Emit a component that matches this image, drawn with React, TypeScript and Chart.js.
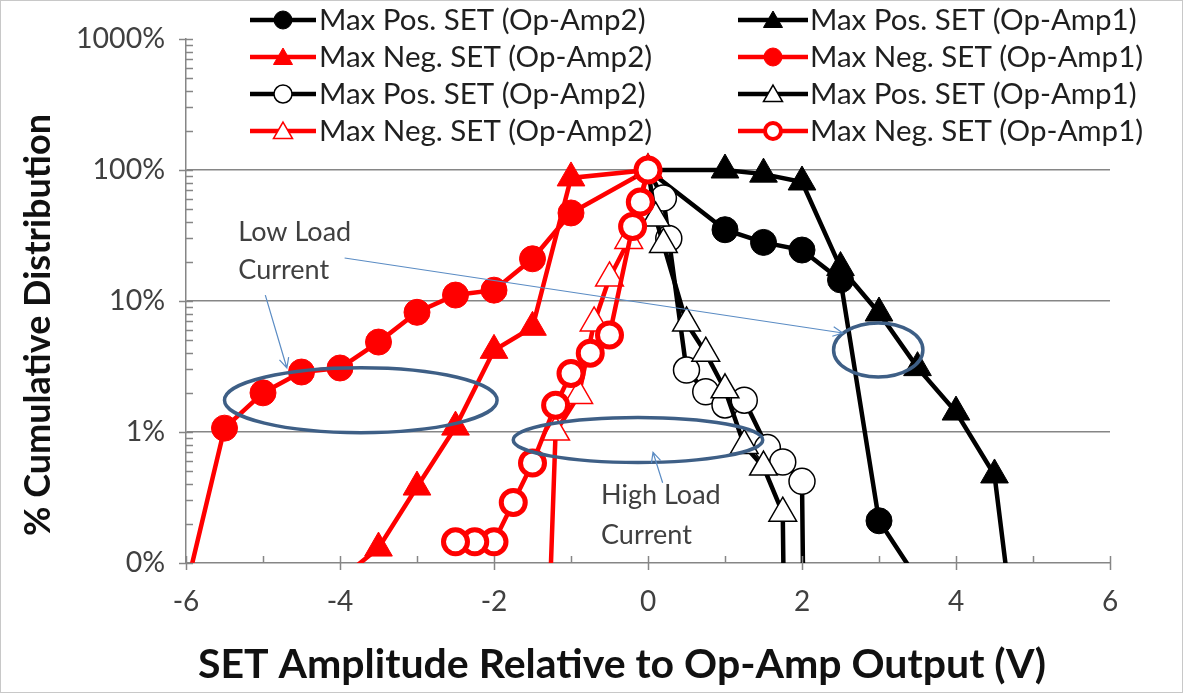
import React, { useEffect, useRef } from 'react';
import { Chart, registerables } from 'chart.js';

Chart.register(...registerables);

const FONT = 'Lato, "Liberation Sans", sans-serif';
const RED = '#ff0000';
const BLACK = '#000000';
const AXIS_GRAY = '#868686';
const NOTE_BLUE = '#3e5f86';
const ARROW_BLUE = '#5b8cc4';

// Axis ranges and tick labels (y in percent, log scale)
const X_MIN = -6;
const X_MAX = 6;
const X_STEP = 2;
const Y_MIN = 0.1;
const Y_MAX = 1000;
const yTickValues = [0.1, 1, 10, 100, 1000];
const yTickLabels = ['0%', '1%', '10%', '100%', '1000%'];

const xTitle = 'SET Amplitude Relative to Op-Amp Output (V)';
const yTitle = '% Cumulative Distribution';

// Series data: x = SET amplitude (V), y = cumulative distribution (%)
const posAmp2SolidX = [0, 1, 1.5, 2, 2.5, 3, 3.5];
const posAmp2SolidY = [100, 35, 28, 24.5, 14.5, 0.21, 0.075];

const posAmp1SolidX = [0, 1, 1.5, 2, 2.5, 3, 3.5, 4, 4.5, 5];
const posAmp1SolidY = [100, 100, 93, 81, 18, 8.1, 3.1, 1.42, 0.47, 0.002];

const negAmp2SolidX = [0, -1, -1.5, -2, -2.5, -3, -3.5, -4];
const negAmp2SolidY = [100, 87, 6.3, 4.2, 1.09, 0.38, 0.13, 0.075];

const negAmp1SolidX = [0, -1, -1.5, -2, -2.5, -3, -3.5, -4, -4.5, -5, -5.5, -6];
const negAmp1SolidY = [100, 47, 21, 12.1, 11.1, 8.2, 4.86, 3.08, 2.87, 1.99, 1.07, 0.063];

const posAmp2OpenX = [0, 0.2, 0.27, 0.5, 0.75, 1, 1.25, 1.55, 1.75, 2, 2.05];
const posAmp2OpenY = [100, 61, 30, 2.97, 2.03, 1.61, 1.75, 0.76, 0.59, 0.42, 0.001];

const posAmp1OpenX = [0, 0.1, 0.2, 0.5, 0.75, 1, 1.25, 1.5, 1.75, 1.8];
const posAmp1OpenY = [100, 43, 27, 6.8, 4.0, 2.1, 0.79, 0.54, 0.24, 0.001];

const negAmp2OpenX = [0, -0.25, -0.5, -0.7, -0.9, -1.2, -1.32];
const negAmp2OpenY = [100, 29, 15, 6.8, 1.9, 1.0, 0.01];

const negAmp1OpenX = [0, -0.1, -0.2, -0.5, -0.75, -1, -1.2, -1.5, -1.75, -2, -2.25, -2.5];
const negAmp1OpenY = [100, 57, 37, 5.5, 4.0, 2.8, 1.6, 0.58, 0.29, 0.145, 0.145, 0.145];

type Marker = {
  shape: 'circle' | 'triangle';
  color: string;
  fill: string;
  radius: number;
  border: number;
  legendRadius: number;
  legendBorder: number;
};

type Series = { label: string; xs: number[]; ys: number[]; marker: Marker };

const seriesList: Series[] = [
  {
    label: 'Max Pos. SET (Op-Amp2)', xs: posAmp2SolidX, ys: posAmp2SolidY,
    marker: { shape: 'circle', color: BLACK, fill: BLACK, radius: 13, border: 1, legendRadius: 9, legendBorder: 1 },
  },
  {
    label: 'Max Pos. SET (Op-Amp1)', xs: posAmp1SolidX, ys: posAmp1SolidY,
    marker: { shape: 'triangle', color: BLACK, fill: BLACK, radius: 16, border: 1, legendRadius: 11, legendBorder: 1 },
  },
  {
    label: 'Max Neg. SET (Op-Amp2)', xs: negAmp2SolidX, ys: negAmp2SolidY,
    marker: { shape: 'triangle', color: RED, fill: RED, radius: 16, border: 1, legendRadius: 11, legendBorder: 1 },
  },
  {
    label: 'Max Neg. SET (Op-Amp1)', xs: negAmp1SolidX, ys: negAmp1SolidY,
    marker: { shape: 'circle', color: RED, fill: RED, radius: 13, border: 1, legendRadius: 9, legendBorder: 1 },
  },
  {
    label: 'Max Pos. SET (Op-Amp2)', xs: posAmp2OpenX, ys: posAmp2OpenY,
    marker: { shape: 'circle', color: BLACK, fill: '#ffffff', radius: 13, border: 1.5, legendRadius: 9, legendBorder: 1.5 },
  },
  {
    label: 'Max Pos. SET (Op-Amp1)', xs: posAmp1OpenX, ys: posAmp1OpenY,
    marker: { shape: 'triangle', color: BLACK, fill: '#ffffff', radius: 16, border: 1.5, legendRadius: 11, legendBorder: 1.5 },
  },
  {
    label: 'Max Neg. SET (Op-Amp2)', xs: negAmp2OpenX, ys: negAmp2OpenY,
    marker: { shape: 'triangle', color: RED, fill: '#ffffff', radius: 16, border: 1.5, legendRadius: 11, legendBorder: 1.5 },
  },
  {
    label: 'Max Neg. SET (Op-Amp1)', xs: negAmp1OpenX, ys: negAmp1OpenY,
    marker: { shape: 'circle', color: RED, fill: '#ffffff', radius: 12, border: 5, legendRadius: 8, legendBorder: 4 },
  },
];

// Callout notes, placed in data units (x in V, y in %; vertical radius in decades)
const ellipses = [
  { cx: -3.73, cy: 1.75, rx: 1.77, ryDec: 0.248 },
  { cx: -0.13, cy: 0.87, rx: 1.62, ryDec: 0.172 },
  { cx: 2.99, cy: 4.23, rx: 0.58, ryDec: 0.206 },
];
const arrows = [
  { x1: -3.94, y1: 21.3, x2: 2.53, y2: 5.7 },
  { x1: -4.97, y1: 11.1, x2: -4.69, y2: 3.08 },
  { x1: 0.19, y1: 0.41, x2: 0.065, y2: 0.70 },
];
const notes = [
  { x: -5.32, y: 33.6, text: 'Low Load' },
  { x: -5.32, y: 17.3, text: 'Current' },
  { x: -0.61, y: 0.33, text: 'High Load' },
  { x: -0.61, y: 0.164, text: 'Current' },
];

function drawMarker(ctx: CanvasRenderingContext2D, x: number, y: number, m: Marker, r: number, bw: number) {
  ctx.save();
  ctx.beginPath();
  if (m.shape === 'circle') {
    ctx.arc(x, y, r, 0, Math.PI * 2);
  } else {
    let a = 0;
    ctx.moveTo(x + Math.sin(a) * r, y - Math.cos(a) * r);
    a += (2 * Math.PI) / 3;
    ctx.lineTo(x + Math.sin(a) * r, y - Math.cos(a) * r);
    a += (2 * Math.PI) / 3;
    ctx.lineTo(x + Math.sin(a) * r, y - Math.cos(a) * r);
    ctx.closePath();
  }
  ctx.fillStyle = m.fill;
  ctx.fill();
  ctx.lineWidth = bw;
  ctx.strokeStyle = m.color;
  ctx.stroke();
  ctx.restore();
}

const axisTicksPlugin = {
  id: 'axisTicks',
  afterDraw(chart: any) {
    const { ctx, chartArea } = chart;
    const xs = chart.scales.x;
    const ys = chart.scales.y;
    ctx.save();
    ctx.strokeStyle = AXIS_GRAY;
    ctx.lineWidth = 1.5;
    ctx.beginPath();
    for (let v = X_MIN; v <= X_MAX; v += 1) {
      const px = Math.round(xs.getPixelForValue(v)) + 0.5;
      const major = v % X_STEP === 0;
      ctx.moveTo(px, chartArea.bottom - 7);
      ctx.lineTo(px, chartArea.bottom + (major ? 7 : 0));
    }
    for (let d = -1; d <= 3; d++) {
      const base = Math.pow(10, d);
      const py = Math.round(ys.getPixelForValue(base)) + 0.5;
      ctx.moveTo(chartArea.left - 7, py);
      ctx.lineTo(chartArea.left + 7, py);
      if (d < 3) {
        for (let k = 2; k <= 9; k++) {
          const pm = Math.round(ys.getPixelForValue(k * base)) + 0.5;
          ctx.moveTo(chartArea.left, pm);
          ctx.lineTo(chartArea.left + 7, pm);
        }
      }
    }
    ctx.stroke();
    ctx.restore();
  },
};

const notesPlugin = {
  id: 'notes',
  afterDatasetsDraw(chart: any) {
    const { ctx } = chart;
    const xs = chart.scales.x;
    const ys = chart.scales.y;
    ctx.save();
    ctx.strokeStyle = NOTE_BLUE;
    ctx.lineWidth = 3.5;
    for (const e of ellipses) {
      const cx = xs.getPixelForValue(e.cx);
      const cy = ys.getPixelForValue(e.cy);
      const rx = xs.getPixelForValue(e.cx + e.rx) - cx;
      const ry = cy - ys.getPixelForValue(e.cy * Math.pow(10, e.ryDec));
      ctx.beginPath();
      ctx.ellipse(cx, cy, rx, ry, 0, 0, Math.PI * 2);
      ctx.stroke();
    }
    ctx.strokeStyle = ARROW_BLUE;
    ctx.lineWidth = 1.2;
    for (const a of arrows) {
      const x1 = xs.getPixelForValue(a.x1);
      const y1 = ys.getPixelForValue(a.y1);
      const x2 = xs.getPixelForValue(a.x2);
      const y2 = ys.getPixelForValue(a.y2);
      const ang = Math.atan2(y2 - y1, x2 - x1);
      const head = 11;
      ctx.beginPath();
      ctx.moveTo(x1, y1);
      ctx.lineTo(x2, y2);
      ctx.moveTo(x2 - head * Math.cos(ang - 0.45), y2 - head * Math.sin(ang - 0.45));
      ctx.lineTo(x2, y2);
      ctx.lineTo(x2 - head * Math.cos(ang + 0.45), y2 - head * Math.sin(ang + 0.45));
      ctx.stroke();
    }
    ctx.fillStyle = '#404040';
    ctx.font = `27px ${FONT}`;
    ctx.textAlign = 'left';
    ctx.textBaseline = 'middle';
    for (const n of notes) {
      ctx.fillText(n.text, xs.getPixelForValue(n.x), ys.getPixelForValue(n.y));
    }
    ctx.restore();
  },
};

const legendPlugin = {
  id: 'twoColLegend',
  afterDraw(chart: any) {
    const { ctx } = chart;
    const cols = [
      { x1: 250, x2: 316, text: 319 },
      { x1: 738, x2: 808, text: 810 },
    ];
    const rows = [20, 57, 94, 131];
    ctx.save();
    seriesList.forEach((s, i) => {
      const col = cols[i % 2];
      const y = rows[Math.floor(i / 2)];
      ctx.strokeStyle = s.marker.color;
      ctx.lineWidth = 4.5;
      ctx.beginPath();
      ctx.moveTo(col.x1, y);
      ctx.lineTo(col.x2, y);
      ctx.stroke();
      drawMarker(ctx, (col.x1 + col.x2) / 2, y + (s.marker.shape === 'triangle' ? 2 : 0), s.marker, s.marker.legendRadius, s.marker.legendBorder);
      ctx.fillStyle = '#1f1f1f';
      ctx.font = `29.5px ${FONT}`;
      ctx.textAlign = 'left';
      ctx.textBaseline = 'middle';
      ctx.fillText(s.label, col.text, y);
    });
    // axis titles
    ctx.fillStyle = '#111111';
    ctx.textAlign = 'center';
    ctx.textBaseline = 'middle';
    ctx.font = `bold 41px ${FONT}`;
    ctx.fillText(xTitle, 622, 665);
    ctx.save();
    ctx.translate(38, 325);
    ctx.rotate(-Math.PI / 2);
    ctx.font = `bold 36px ${FONT}`;
    ctx.fillText(yTitle, 0, 0);
    ctx.restore();
    // chart frame
    ctx.strokeStyle = '#c8c8c8';
    ctx.lineWidth = 1;
    ctx.strokeRect(0.5, 0.5, chart.width - 1, chart.height - 1);
    ctx.restore();
  },
};

export default function App() {
  const canvasRef = useRef<HTMLCanvasElement | null>(null);

  useEffect(() => {
    if (!canvasRef.current) return;
    const datasets = seriesList.map((s, i) => ({
      label: s.label,
      data: s.xs.map((x, j) => ({ x, y: s.ys[j] })),
      borderColor: s.marker.color,
      backgroundColor: s.marker.fill,
      borderWidth: 4.5,
      pointStyle: s.marker.shape,
      pointRadius: (c: any) => (c.raw && c.raw.y < Y_MIN ? 0 : s.marker.radius),
      pointHoverRadius: s.marker.radius,
      pointBackgroundColor: s.marker.fill,
      pointBorderColor: s.marker.color,
      pointBorderWidth: s.marker.border,
      tension: 0,
      fill: false,
      order: seriesList.length - i,
    }));

    const chart = new Chart(canvasRef.current, {
      type: 'line',
      data: { datasets },
      options: {
        responsive: false,
        animation: false,
        devicePixelRatio: 1,
        events: [],
        layout: { padding: { top: 39, right: 73, left: 0, bottom: 0 } },
        plugins: { legend: { display: false }, tooltip: { enabled: false } },
        scales: {
          x: {
            type: 'linear',
            min: X_MIN,
            max: X_MAX,
            ticks: {
              stepSize: X_STEP,
              color: '#404040',
              font: { family: FONT, size: 28 },
              padding: 22,
            },
            grid: { display: false, drawTicks: false },
            border: { color: AXIS_GRAY, width: 1.5 },
            afterFit: (s: any) => { s.height = 130; },
          },
          y: {
            type: 'logarithmic',
            min: Y_MIN,
            max: Y_MAX,
            afterBuildTicks: (s: any) => { s.ticks = yTickValues.map((v) => ({ value: v })); },
            ticks: {
              color: '#404040',
              font: { family: FONT, size: 28.5 },
              padding: 21,
              callback: (v: any) => {
                const idx = yTickValues.findIndex((t) => Math.abs(t - Number(v)) < 1e-9);
                return idx >= 0 ? yTickLabels[idx] : '';
              },
            },
            grid: {
              drawTicks: false,
              lineWidth: 1.5,
              color: (c: any) => (c.tick && (c.tick.value === Y_MAX || c.tick.value === Y_MIN) ? 'rgba(0,0,0,0)' : AXIS_GRAY),
            },
            border: { color: AXIS_GRAY, width: 1.5 },
            afterFit: (s: any) => { s.width = 186; },
          },
        },
      } as any,
      plugins: [axisTicksPlugin, notesPlugin, legendPlugin],
    });
    return () => chart.destroy();
  }, []);

  return (
    <div style={{ position: 'fixed', left: 0, top: 0, width: 1183, height: 693, background: '#ffffff' }}>
      <canvas ref={canvasRef} width={1183} height={693} style={{ display: 'block' }} />
    </div>
  );
}
